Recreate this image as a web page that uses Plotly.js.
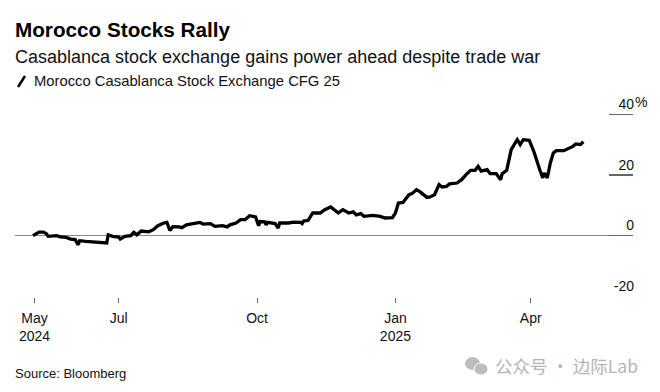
<!DOCTYPE html>
<html>
<head>
<meta charset="utf-8">
<script src="https://cdn.plot.ly/plotly-3.0.1.min.js"></script>
<style>html,body{margin:0;padding:0;background:#fff;}#chart{width:660px;height:392px;}</style>
</head>
<body>
<div id="chart"></div>
<script>
const dates = [
"2024-05-05","2024-05-07","2024-05-09","2024-05-12","2024-05-14","2024-05-15","2024-05-19","2024-05-21","2024-05-23","2024-05-27",
"2024-05-30","2024-06-02","2024-06-04","2024-06-05","2024-06-09","2024-06-13","2024-06-19","2024-06-23","2024-06-24","2024-06-27",
"2024-07-01","2024-07-02","2024-07-05","2024-07-09","2024-07-11","2024-07-13","2024-07-16","2024-07-21","2024-07-24","2024-07-27",
"2024-07-31","2024-08-02","2024-08-04","2024-08-06","2024-08-10","2024-08-12","2024-08-15","2024-08-20","2024-08-24","2024-08-26",
"2024-08-31","2024-09-03","2024-09-08","2024-09-11","2024-09-13","2024-09-17","2024-09-20","2024-09-23","2024-09-26","2024-09-30",
"2024-10-02","2024-10-03","2024-10-06","2024-10-07","2024-10-08","2024-10-13","2024-10-15","2024-10-16","2024-10-22","2024-10-25",
"2024-10-30","2024-10-31","2024-11-01","2024-11-04","2024-11-07","2024-11-12","2024-11-15","2024-11-19","2024-11-21","2024-11-24",
"2024-11-27","2024-12-01","2024-12-04","2024-12-06","2024-12-09","2024-12-11","2024-12-17","2024-12-22","2024-12-25","2024-12-30",
"2025-01-01","2025-01-03","2025-01-06","2025-01-10","2025-01-12","2025-01-15","2025-01-17","2025-01-22","2025-01-24","2025-01-27",
"2025-01-30","2025-02-01","2025-02-04","2025-02-06","2025-02-11","2025-02-14","2025-02-17","2025-02-20","2025-02-23","2025-02-25",
"2025-02-27","2025-03-03","2025-03-05","2025-03-09","2025-03-12","2025-03-13","2025-03-16","2025-03-19","2025-03-23","2025-03-25",
"2025-03-27","2025-03-31","2025-04-03","2025-04-05","2025-04-07","2025-04-09","2025-04-10","2025-04-12","2025-04-14","2025-04-16",
"2025-04-18","2025-04-23","2025-04-27","2025-04-29","2025-05-01","2025-05-04","2025-05-06"
];
const cfg25 = [
0.0,0.55,1.2,1.2,0.6,-0.2,0.1,0.0,-0.4,-0.55,
-1.1,-1.3,-3.0,-1.65,-1.9,-2.1,-2.2,-2.4,0.3,-0.2,
-0.45,-1.1,-0.2,0.0,1.1,0.3,1.55,1.3,2.0,3.3,
4.2,4.4,1.75,3.0,2.9,2.65,3.6,4.0,4.4,3.85,
4.0,3.1,3.3,2.9,3.6,4.2,5.3,5.3,6.6,6.2,
3.3,4.7,4.6,3.6,4.4,4.0,2.5,4.2,4.2,4.5,
4.4,4.0,4.85,5.1,7.5,7.5,8.6,9.5,8.8,7.5,
8.6,7.5,7.9,6.9,7.3,6.4,6.7,6.4,5.85,5.95,
7.5,10.8,11.0,13.55,13.9,15.2,14.65,12.65,12.8,13.55,
16.9,16.1,16.3,17.1,17.4,18.5,20.2,21.6,21.6,22.9,
21.3,21.8,20.5,20.5,18.5,20.5,21.6,28.4,31.7,30.1,
31.7,31.5,27.9,24.6,21.8,19.1,20.7,19.1,24.0,27.3,
28.1,28.1,29.0,29.5,30.3,30.1,31.0
];
const xTickVals = ["2024-05-06","2024-07-01","2024-10-01","2025-01-01","2025-04-01"];
const xTickText = ["May<br>2024","Jul","Oct","Jan<br>2025","Apr"];
const yTickVals = [-20, 0, 20, 40];
const yTickText = ["-20", "0", "20", "40"];

const FONT = "'Liberation Sans', Arial, Helvetica, sans-serif";
const H = 211; // plot height px
function py(px){ return (297 - px) / H; }
function pxx(px){ return (px - 15) / 618; }

const trace = {
  x: dates, y: cfg25, type: "scatter", mode: "lines",
  line: {color: "#000000", width: 3.3, shape: "linear"},
  hoverinfo: "skip"
};

const layout = {
  width: 660, height: 392,
  margin: {l: 15, r: 27, t: 86, b: 95},
  paper_bgcolor: "#ffffff", plot_bgcolor: "#ffffff",
  showlegend: false,
  font: {family: FONT, color: "#111", size: 14},
  xaxis: {
    type: "date",
    range: ["2024-04-23", "2025-06-08"],
    tickmode: "array", tickvals: xTickVals, ticktext: xTickText,
    ticks: "outside", ticklen: 5, tickwidth: 1, tickcolor: "#666",
    ticklabelstandoff: 3,
    showgrid: false, zeroline: false, showline: false,
    tickfont: {family: FONT, size: 14, color: "#111"}
  },
  yaxis: {
    side: "right",
    range: [-20.24, 49.44],
    tickmode: "array", tickvals: yTickVals, ticktext: yTickText,
    ticks: "inside", ticklen: 24, tickwidth: 1.5, tickcolor: "#666",
    ticklabelposition: "inside top",
    ticklabelstandoff: -4,
    showgrid: false, showline: false,
    zeroline: true, zerolinecolor: "#888", zerolinewidth: 1.5,
    tickfont: {family: FONT, size: 14, color: "#111"}
  },
  shapes: [
    {type: "line", xref: "paper", yref: "paper",
     x0: pxx(18), y0: py(87), x1: pxx(25), y1: py(76),
     line: {color: "#000", width: 2.5}},
    {type: "circle", xref: "paper", yref: "paper",
     x0: pxx(465), y0: py(370), x1: pxx(480), y1: py(357),
     fillcolor: "#bdbdbd", line: {width: 0}},
    {type: "circle", xref: "paper", yref: "paper",
     x0: pxx(474), y0: py(375), x1: pxx(488), y1: py(363),
     fillcolor: "#bdbdbd", line: {color: "#ffffff", width: 1}}
  ],
  annotations: [
    {text: "<b>Morocco Stocks Rally</b>", xref: "paper", yref: "paper", x: -0.003, y: py(29),
     xanchor: "left", yanchor: "middle", showarrow: false, font: {family: FONT, size: 20.7, color: "#000"}},
    {text: "Casablanca stock exchange gains power ahead despite trade war", xref: "paper", yref: "paper", x: -0.003, y: py(57),
     xanchor: "left", yanchor: "middle", showarrow: false, font: {family: FONT, size: 18, color: "#111"}},
    {text: "Morocco Casablanca Stock Exchange CFG 25", xref: "paper", yref: "paper", x: pxx(32), y: py(81),
     xanchor: "left", yanchor: "middle", showarrow: false, font: {family: FONT, size: 14.8, color: "#111"}},
    {text: "%", xref: "paper", yref: "y", x: 1.0, y: 40, yshift: 13, xshift: 0,
     xanchor: "left", yanchor: "middle", showarrow: false, font: {family: FONT, size: 14, color: "#111"}},
    {text: "Source: Bloomberg", xref: "paper", yref: "paper", x: -0.003, y: py(373),
     xanchor: "left", yanchor: "middle", showarrow: false, font: {family: FONT, size: 13, color: "#111"}},
    {text: "公众号 · 边际Lab", xref: "paper", yref: "paper", x: pxx(640), y: py(365),
     xanchor: "right", yanchor: "middle", showarrow: false,
     font: {family: "'Noto Sans CJK SC', 'Noto Sans', sans-serif", size: 17.5, color: "#b5b5b5"}}
  ]
};

Plotly.newPlot("chart", [trace], layout, {displayModeBar: false, staticPlot: true});
</script>
</body>
</html>
